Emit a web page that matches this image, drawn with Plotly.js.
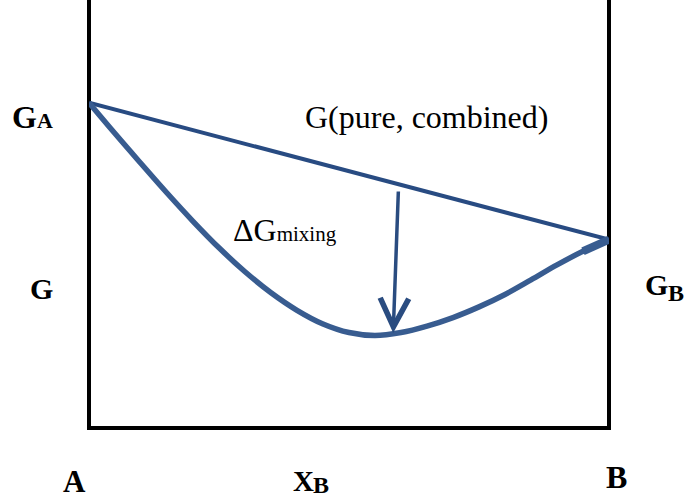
<!DOCTYPE html>
<html>
<head>
<meta charset="utf-8">
<script src="https://cdn.plot.ly/plotly-3.0.1.min.js"></script>
<style>
  html, body { margin: 0; padding: 0; background: #ffffff; }
  #chart { width: 684px; height: 499px; }
</style>
</head>
<body>
<div id="chart"></div>
<script>
// Free energy of a binary A-B system versus mole fraction of B.
const G_A = 76;   // free energy of pure A
const G_B = 44;   // free energy of pure B

// Mole fraction of B, 0 = pure A, 1 = pure B
const xPure = [0, 1];
const gPure = [G_A, G_B];

// Free energy of the mixed solution
const xMix = [0, 0.05, 0.10, 0.15, 0.20, 0.25, 0.30, 0.35, 0.40, 0.45, 0.50,
              0.55, 0.60, 0.65, 0.70, 0.75, 0.80, 0.85, 0.90, 0.95, 1.0];
const gMix = [76, 68.8, 61.8, 54.9, 48.3, 42.1, 36.5, 31.6, 27.5, 24.3, 22.3,
              21.6, 22.3, 23.8, 25.8, 28.3, 31.2, 34.6, 38.1, 41.3, 44];

// Arrow marking the drop from the combined line to the mixed curve
const arrowTail = { x: 0.595, g: 55.6 };
const arrowHead = { x: 0.585, g: 22.2 };

const SERIF = 'Liberation Serif, Times New Roman, serif';
const W = 684, H = 499;
const M = { l: 89, r: 75, t: 0, b: 71 };
const PW = W - M.l - M.r, PH = H - M.t - M.b;

// pixel position on the page -> paper coordinates
const px = v => (v - M.l) / PW;
const py = v => (H - M.b - v) / PH;

const traces = [
  {
    x: xPure, y: gPure, mode: 'lines', type: 'scatter',
    line: { color: '#284b82', width: 4 },
    hoverinfo: 'skip', cliponaxis: false
  },
  {
    x: xMix, y: gMix, mode: 'lines', type: 'scatter',
    line: { color: '#385c90', width: 5.5, shape: 'spline', smoothing: 1 },
    hoverinfo: 'skip', cliponaxis: false
  },
  {
    // thickened end of the mixing curve
    x: xMix.slice(-2), y: gMix.slice(-2), mode: 'lines', type: 'scatter',
    line: { color: '#385c90', width: 8 },
    hoverinfo: 'skip', cliponaxis: false
  }
];

function label(text, cx, cy, size, bold) {
  return {
    xref: 'paper', yref: 'paper', x: px(cx), y: py(cy),
    xanchor: 'center', yanchor: 'middle', showarrow: false,
    text: bold ? '<b>' + text + '</b>' : text,
    font: { family: SERIF, size: size, color: '#000000' }
  };
}

const annotations = [
  {
    xref: 'x', yref: 'y', axref: 'x', ayref: 'y',
    x: arrowHead.x, y: arrowHead.g, ax: arrowTail.x, ay: arrowTail.g,
    text: '', showarrow: true, arrowhead: 5, arrowsize: 1.6,
    arrowwidth: 3.5, arrowcolor: '#2a4c80', standoff: 0
  },
  label('G<span style="font-size:22px">A</span>', 32, 117, 32, true),
  label('G', 41, 288, 30, true),
  label('G', 656, 284, 30, true),
  label('B', 676, 293, 24, true),
  label('A', 74, 481, 31, true),
  label('X', 303, 481, 29, true),
  label('B', 321, 485, 24, true),
  label('B', 616, 477, 32, true),
  label('G(pure, combined)', 426, 117, 32, false),
  label('ΔG<span style="font-size:21px">mixing</span>', 285, 230, 32, false)
];

const frame = { color: '#000000', width: 4 };
const shapes = [
  { type: 'line', xref: 'paper', yref: 'paper', x0: 0, x1: 0, y0: -2 / PH, y1: 1, line: frame, layer: 'below' },
  { type: 'line', xref: 'paper', yref: 'paper', x0: 1, x1: 1, y0: -2 / PH, y1: 1, line: frame, layer: 'below' },
  { type: 'line', xref: 'paper', yref: 'paper', x0: -2 / PW, x1: 1 + 2 / PW, y0: 0, y1: 0, line: frame, layer: 'below' }
];

const layout = {
  width: W, height: H, autosize: false,
  margin: M,
  paper_bgcolor: '#ffffff', plot_bgcolor: '#ffffff',
  showlegend: false,
  xaxis: { range: [0, 1], visible: false, fixedrange: true },
  yaxis: { range: [0, 100], visible: false, fixedrange: true },
  annotations: annotations,
  shapes: shapes
};

Plotly.newPlot('chart', traces, layout, { staticPlot: true, displayModeBar: false });
</script>
</body>
</html>
